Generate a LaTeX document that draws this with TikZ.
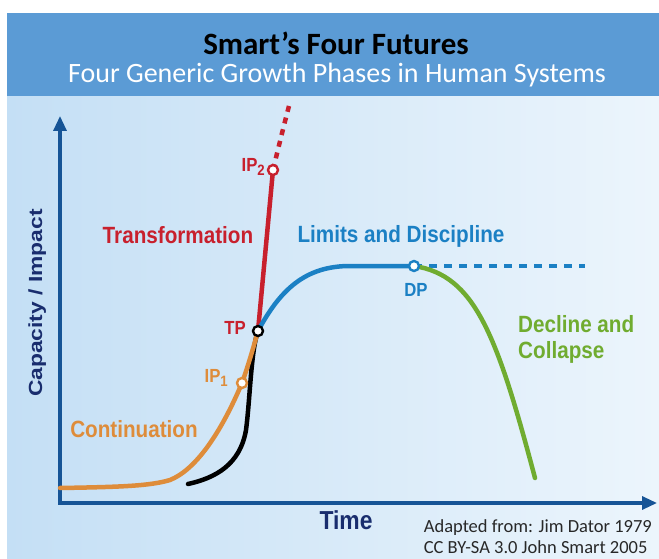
\documentclass[tikz,border=0pt]{standalone}
\usepackage{fontspec}
\setmainfont{Carlito}
\newfontfamily\cond[FakeStretch=0.88]{Liberation Sans}
\newfontfamily\wide[FakeStretch=1.2]{Liberation Sans}
\usetikzlibrary{arrows.meta}
\definecolor{hdr}{RGB}{91,155,213}
\definecolor{bgL}{RGB}{196,223,245}
\definecolor{bgR}{RGB}{236,245,252}
\definecolor{cred}{RGB}{200,32,45}
\definecolor{corange}{RGB}{222,140,58}
\definecolor{cblue}{RGB}{27,128,196}
\definecolor{cgreen}{RGB}{112,172,48}
\definecolor{caxis}{RGB}{22,84,150}
\definecolor{ctime}{RGB}{25,45,110}
\definecolor{ctext}{RGB}{40,40,40}
\tikzset{
  curve/.style={line width=4.5pt, line cap=round},
  axisline/.style={line width=3.2pt, caxis, {Triangle[length=15pt,width=13pt]}-{Triangle[length=15pt,width=13pt]}},
  pt/.style={circle, draw, line width=2.4pt, fill=white, minimum size=10pt, inner sep=0pt},
  lab/.style={font=\cond\bfseries\fontsize{23.5}{26}\selectfont, inner sep=0pt},
  smlab/.style={font=\cond\bfseries\fontsize{19}{20}\selectfont, inner sep=0pt},
}
\begin{document}
\begin{tikzpicture}[x=1pt,y=-1pt]
\useasboundingbox (0,0) rectangle (659,559);
\fill[white] (0,0) rectangle (659,559);
\shade[left color=bgL, right color=bgR] (7,96) rectangle (659,559);
\fill[hdr] (7,13) rectangle (659,96);
\node[anchor=base, inner sep=0pt, font=\bfseries\fontsize{31}{31}\selectfont] (title) at (336,55) {Smart’s Four Futures};
\node[anchor=base, inner sep=0pt, text=white, font=\fontsize{28}{28}\selectfont] (sub) at (337,83) {Four Generic Growth Phases in Human Systems};

% axes
\coordinate (origin) at (60,503);
\coordinate (ytop) at (60,116);
\coordinate (xend) at (657,503);
\draw[axisline] (ytop) -- (origin) -- (xend);

% points
\coordinate (tp) at (258,331);
\coordinate (ip1) at (242,383);
\coordinate (ip2) at (273,170);
\coordinate (dp) at (414,266);
\coordinate (o0) at (60,488);
\coordinate (k0) at (188,484);
\coordinate (redend) at (289,106);
\coordinate (dashend) at (585,266);
\coordinate (gend) at (535,478);

% curves
\draw[curve, black] (k0) .. controls (215,478) and (240,465) .. (246,430) .. controls (250,400) and (251,350) .. (tp);
\draw[curve, corange] (o0) .. controls (120,487) and (150,486) .. (170,480) .. controls (195,470) and (220,435) .. (ip1) .. controls (250,360) and (254,345) .. (tp);
\draw[curve, cred] (tp) -- (ip2);
\draw[line width=4.5pt, cred, dash pattern=on 6pt off 6pt] (ip2) .. controls (279,145) and (284,125) .. (redend);
\draw[curve, cblue] (tp) .. controls (280,290) and (305,266) .. (350,266) -- (dp);
\draw[line width=4.5pt, cblue, dash pattern=on 8pt off 7pt] (dp) -- (dashend);
\draw[curve, cgreen] (dp) .. controls (475,275) and (497,335) .. (gend);

\node[pt, draw=black] (tpc) at (tp) {};
\node[pt, draw=corange] (ip1c) at (ip1) {};
\node[pt, draw=cred] (ip2c) at (ip2) {};
\node[pt, draw=cblue] (dpc) at (dp) {};

% labels
\node[smlab, text=cred, anchor=east] (ip2l) at (265,167) {IP\raisebox{-0.35ex}{\fontsize{15}{15}\selectfont 2}};
\node[smlab, text=cred, anchor=east] (tpl) at (246,328) {TP};
\node[smlab, text=corange, anchor=east] (ip1l) at (228,378) {IP\raisebox{-0.35ex}{\fontsize{15}{15}\selectfont 1}};
\node[smlab, text=cblue] (dpl) at (416,290) {DP};
\node[lab, text=cred, anchor=base] (trans) at (178,243) {Transformation};
\node[lab, text=cblue, anchor=base] (limits) at (401,242) {Limits and Discipline};
\node[lab, text=corange, anchor=base] (cont) at (134,437) {Continuation};
\node[lab, text=cgreen, align=left, anchor=north west] (decl) at (518,315) {Decline and\\Collapse};
\node[lab, text=ctime, anchor=base, font=\cond\bfseries\fontsize{26}{26}\selectfont] (time) at (346,529) {Time};
\node[lab, text=ctime, rotate=90, anchor=base, font=\wide\bfseries\fontsize{19}{19}\selectfont] (cap) at (42,303) {Capacity / Impact};
\node[anchor=north east, inner sep=0pt, align=left, text=ctext, font=\fontsize{18.5}{21.5}\selectfont] (attr) at (652,519) {Adapted from: Jim Dator 1979\\CC BY-SA 3.0 John Smart 2005};
\end{tikzpicture}
\end{document}
